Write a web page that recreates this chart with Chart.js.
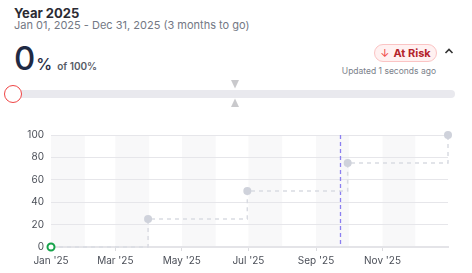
<!DOCTYPE html>
<html>
<head>
<meta charset="utf-8">
<script src="https://cdn.jsdelivr.net/npm/chart.js@4.4.1/dist/chart.umd.min.js"></script>
<style>
  html,body{margin:0;padding:0;background:#fff;}
  body{width:472px;height:273px;position:relative;overflow:hidden;font-family:Inter,"Noto Sans",sans-serif;}
  .abs{position:absolute;white-space:nowrap;}
  #title{left:14px;top:5px;font-size:13px;font-weight:700;color:#2b2b33;}
  #range{left:14px;top:18px;font-size:11px;color:#737884;}
  #big{left:14px;top:40px;font-size:33px;font-weight:500;color:#1f2a44;line-height:36px;}
  #big .pct{font-size:16px;font-weight:500;margin-left:1px;}
  #big .of{font-size:10px;font-weight:600;color:#555b66;margin-left:5px;}
  #badge{left:374px;top:44px;width:61px;height:16px;border:1px solid #fbc4c4;background:#fff1f1;border-radius:9px;font-size:11px;font-weight:700;color:#b4232a;line-height:16px;text-align:center;}
  #badge .arr{color:#ef4444;font-weight:400;margin-right:4px;}
  #chev{left:444px;top:45px;width:10px;height:12px;}
  #upd{right:36px;top:66px;font-size:8.5px;color:#7a7f8a;}
  #bar{left:12px;top:90px;width:443px;height:8px;background:#e9e9ee;border-radius:4px;}
  #knob{left:4px;top:85px;width:16px;height:16px;border:1.5px solid #ef4444;border-radius:50%;background:#fff;}
  #chartwrap{left:0;top:120px;width:472px;height:153px;}
</style>
</head>
<body>
<div id="title" class="abs">Year 2025</div>
<div id="range" class="abs">Jan 01, 2025 - Dec 31, 2025 (3 months to go)</div>
<div id="big" class="abs">0<span class="pct">%</span><span class="of">of 100%</span></div>
<div id="badge" class="abs"><span class="arr">↓</span>At Risk</div>
<svg id="chev" class="abs" viewBox="0 0 10 12"><polyline points="1.5,8 5,4.5 8.5,8" fill="none" stroke="#333" stroke-width="1.6"/></svg>
<div id="upd" class="abs">Updated 1 seconds ago</div>
<div id="bar" class="abs"></div>
<svg class="abs" style="left:230px;top:80px;width:10px;height:28px" viewBox="0 0 10 28">
  <polygon points="1,0 9,0 5,8.5" fill="#c9c9cc"/>
  <polygon points="5,18.5 9,27 1,27" fill="#c9c9cc"/>
</svg>
<div id="knob" class="abs"></div>
<div id="chartwrap" class="abs"><canvas id="c" width="472" height="153"></canvas></div>
<script>
// ---- data ----
const yearStart = '2025-01-01';
const yearEnd = '2025-12-31';
const targetDates = ['2025-01-01','2025-03-31','2025-06-30','2025-09-30','2025-12-31'];
const targetValues = [0, 25, 50, 75, 100];
const actualDates = ['2025-01-01'];
const actualValues = [0];
const tickDates = ['2025-01-01','2025-03-01','2025-05-01','2025-07-01','2025-09-01','2025-11-01'];
const tickLabels = ["Jan '25","Mar '25","May '25","Jul '25","Sep '25","Nov '25"];
const shadedStarts = ['2025-01-01','2025-03-01','2025-05-01','2025-07-01','2025-09-01','2025-11-01'];
const shadedEnds   = ['2025-02-01','2025-04-01','2025-06-01','2025-08-01','2025-10-01','2025-12-01'];
const todayDate = '2025-09-23';
const yTicks = [0, 20, 40, 60, 80, 100];

function dayOf(s){
  const p = s.split('-').map(Number);
  return (Date.UTC(p[0],p[1]-1,p[2]) - Date.UTC(2025,0,1)) / 86400000;
}

const bandsPlugin = {
  id:'bands',
  beforeDraw(chart){
    const {ctx, chartArea:a, scales:{x}} = chart;
    ctx.save();
    ctx.fillStyle = '#f8f8f9';
    shadedStarts.forEach((s,i)=>{
      const x0 = x.getPixelForValue(dayOf(s));
      const x1 = x.getPixelForValue(dayOf(shadedEnds[i]));
      ctx.fillRect(x0, a.top, x1-x0, a.bottom-a.top);
    });
    ctx.restore();
  },
  beforeDatasetsDraw(chart){
    const {ctx, chartArea:a, scales:{x}} = chart;
    const px = Math.round(x.getPixelForValue(dayOf(todayDate))) + 0.5;
    ctx.save();
    ctx.strokeStyle = '#8b7ff0';
    ctx.lineWidth = 1.3;
    ctx.setLineDash([4,3]);
    ctx.beginPath();
    ctx.moveTo(px, a.top);
    ctx.lineTo(px, a.bottom);
    ctx.stroke();
    ctx.restore();
  }
};

new Chart(document.getElementById('c'), {
  type:'line',
  data:{
    datasets:[
      {
        label:'Actual',
        data: actualDates.map((d,i)=>({x:dayOf(d), y:actualValues[i]})),
        borderColor:'#16a34a',
        backgroundColor:'#ffffff',
        pointRadius:3.5,
        pointBorderWidth:2,
        pointBorderColor:'#16a34a',
        pointBackgroundColor:'#ffffff',
        showLine:false,
        clip:false,
        order:0
      },
      {
        label:'Target',
        data: targetDates.map((d,i)=>({x:dayOf(d), y:targetValues[i]})),
        stepped:'before',
        borderColor:'#d9dbe2',
        borderWidth:1.5,
        borderDash:[4,4],
        pointRadius: targetDates.map((d,i)=> i===0 ? 0 : 4),
        pointBackgroundColor:'#cfd2db',
        pointBorderColor:'#cfd2db',
        pointBorderWidth:0,
        fill:false,
        clip:false,
        order:1
      }
    ]
  },
  options:{
    responsive:false,
    animation:false,
    events:[],
    layout:{padding:{left:0,right:24,top:15,bottom:0}},
    plugins:{legend:{display:false},tooltip:{enabled:false}},
    scales:{
      x:{
        type:'linear',
        min:dayOf(yearStart),
        max:dayOf(yearEnd),
        afterBuildTicks(scale){ scale.ticks = tickDates.map(d=>({value:dayOf(d)})); },
        afterFit(scale){ scale.height = 26; },
        grid:{display:true, drawOnChartArea:false, drawTicks:true, tickLength:4, color:'#dcdce0'},
        border:{display:true, color:'#e4e4e8', width:2},
        ticks:{
          autoSkip:false, maxRotation:0, padding:4,
          color:'#4b4f58', font:{family:'Inter', size:10},
          callback:(v,i)=> tickLabels[i]
        }
      },
      y:{
        min:0, max:100,
        afterBuildTicks(scale){ scale.ticks = yTicks.map(v=>({value:v})); },
        afterFit(scale){ scale.width = 51; },
        grid:{color:'#e6e6ea', drawTicks:false, lineWidth:1},
        border:{display:false},
        ticks:{padding:7, color:'#4b4f58', font:{family:'Inter', size:10}}
      }
    }
  },
  plugins:[bandsPlugin]
});
</script>
</body>
</html>
